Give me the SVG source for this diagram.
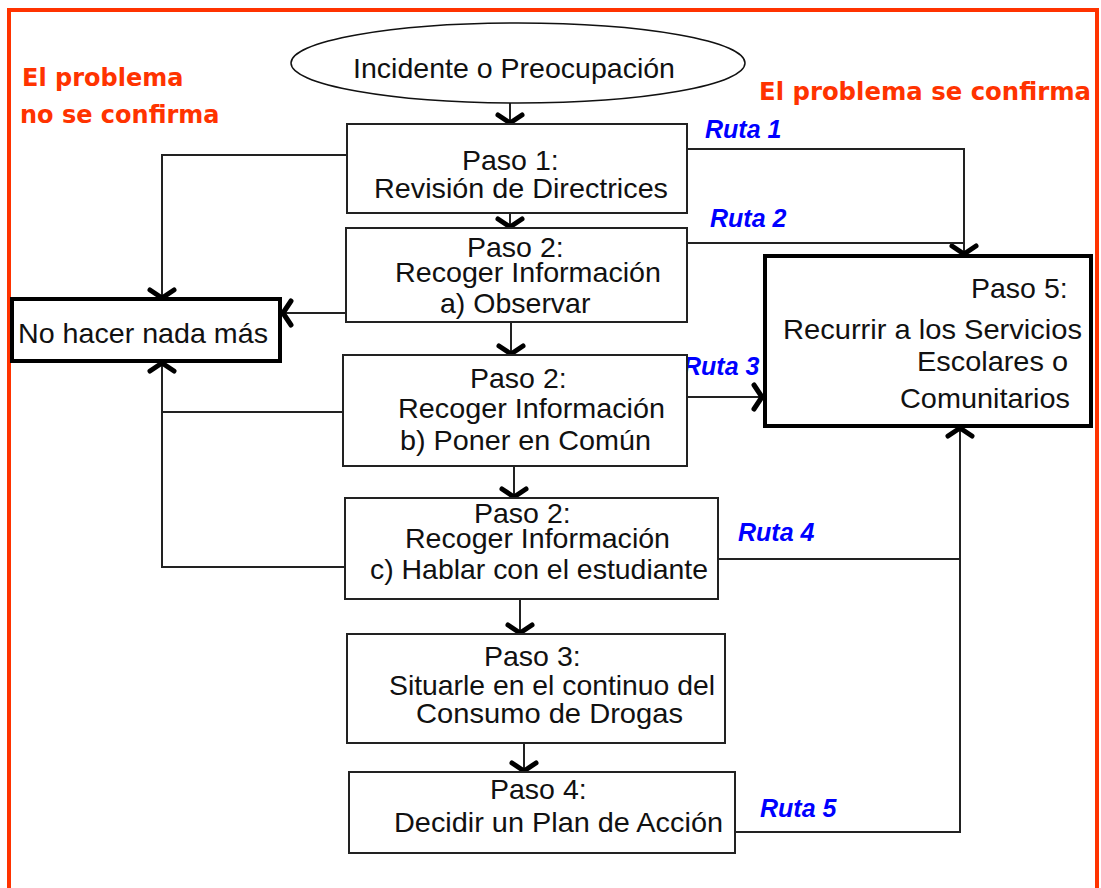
<svg xmlns="http://www.w3.org/2000/svg" width="1101" height="888" viewBox="0 0 1101 888">
<style>
.box{fill:#fff;stroke:#222;stroke-width:2}
.thick{fill:#fff;stroke:#000;stroke-width:4}
.t{font-family:"Liberation Sans",Arial,sans-serif;font-size:28.5px;fill:#111}
.red{font-family:"DejaVu Sans",Verdana,sans-serif;font-weight:bold;font-size:24px;fill:#ff3300}
.ruta{font-family:"Liberation Sans",Arial,sans-serif;font-weight:bold;font-style:italic;font-size:25px;fill:#0000ff}
.c{fill:none;stroke:#222;stroke-width:2}
.a{marker-end:url(#ah)}
</style>
<defs>
<marker id="ah" markerUnits="userSpaceOnUse" viewBox="-16 -16 32 32" markerWidth="32" markerHeight="32" refX="0" refY="0" orient="auto">
<path d="M-9,-12 L-1,0 L-9,12" fill="none" stroke="#000" stroke-width="5" stroke-linejoin="round" stroke-linecap="round"/>
</marker>
</defs>
<rect x="0" y="0" width="1101" height="888" fill="#fff"/>
<path d="M9,895 V10 H1097 V895" fill="none" stroke="#ff3300" stroke-width="4"/>

<g id="labels">
<text class="red" x="22" y="86">El problema</text>
<text class="red" x="20" y="123">no se confirma</text>
<text class="red" x="759" y="100" textLength="332" lengthAdjust="spacingAndGlyphs">El problema se confirma</text>
<text class="ruta" x="705" y="138">Ruta 1</text>
<text class="ruta" x="710" y="227">Ruta 2</text>
<text class="ruta" x="683" y="375">Ruta 3</text>
<text class="ruta" x="738" y="541">Ruta 4</text>
<text class="ruta" x="760" y="817">Ruta 5</text>
</g>

<g id="connectors">
<path class="c a" d="M510,88 V124"/>
<path class="c a" d="M510,213 V228"/>
<path class="c a" d="M511,322 V355"/>
<path class="c a" d="M514,466 V498"/>
<path class="c a" d="M520,599 V634"/>
<path class="c a" d="M524,743 V772"/>
<path class="c a" d="M347,155 H162 V299"/>
<path class="c a" d="M346,313 H282"/>
<path class="c" d="M343,412 H162"/>
<path class="c a" d="M345,567 H162 V362"/>
<path class="c a" d="M687,149 H964 V255"/>
<path class="c" d="M687,243 H964"/>
<path class="c a" d="M685,397 H763"/>
<path class="c" d="M718,559 H960"/>
<path class="c a" d="M735,832 H960 V427"/>
</g>

<g id="incidente">
<ellipse cx="518" cy="63" rx="227" ry="40" fill="#fff" stroke="#111" stroke-width="1.5"/>
<text class="t" x="353" y="78" textLength="322" lengthAdjust="spacingAndGlyphs">Incidente o Preocupación</text>
</g>

<g id="paso1">
<rect class="box" x="347" y="124" width="340" height="89"/>
<text class="t" x="462" y="170">Paso 1:</text>
<text class="t" x="374" y="198" textLength="294" lengthAdjust="spacingAndGlyphs">Revisión de Directrices</text>
</g>

<g id="paso2a">
<rect class="box" x="346" y="228" width="341" height="94"/>
<text class="t" x="467" y="257">Paso 2:</text>
<text class="t" x="395" y="282" textLength="266" lengthAdjust="spacingAndGlyphs">Recoger Información</text>
<text class="t" x="440" y="313">a) Observar</text>
</g>

<g id="nohacer">
<rect class="thick" x="12" y="299" width="268" height="62"/>
<text class="t" x="18" y="343" textLength="250" lengthAdjust="spacingAndGlyphs">No hacer nada más</text>
</g>

<g id="paso2b">
<rect class="box" x="343" y="355" width="344" height="111"/>
<text class="t" x="470" y="388">Paso 2:</text>
<text class="t" x="398" y="418" textLength="267" lengthAdjust="spacingAndGlyphs">Recoger Información</text>
<text class="t" x="400" y="450" textLength="251" lengthAdjust="spacingAndGlyphs">b) Poner en Común</text>
</g>

<g id="paso2c">
<rect class="box" x="345" y="498" width="373" height="101"/>
<text class="t" x="474" y="523">Paso 2:</text>
<text class="t" x="405" y="548" textLength="265" lengthAdjust="spacingAndGlyphs">Recoger Información</text>
<text class="t" x="370" y="579" textLength="338" lengthAdjust="spacingAndGlyphs">c) Hablar con el estudiante</text>
</g>

<g id="paso3">
<rect class="box" x="347" y="634" width="378" height="109"/>
<text class="t" x="484" y="666">Paso 3:</text>
<text class="t" x="389" y="695" textLength="326" lengthAdjust="spacingAndGlyphs">Situarle en el continuo del</text>
<text class="t" x="416" y="723" textLength="267" lengthAdjust="spacingAndGlyphs">Consumo de Drogas</text>
</g>

<g id="paso4">
<rect class="box" x="349" y="772" width="386" height="81"/>
<text class="t" x="490" y="799">Paso 4:</text>
<text class="t" x="394" y="832" textLength="329" lengthAdjust="spacingAndGlyphs">Decidir un Plan de Acción</text>
</g>

<g id="paso5">
<rect class="thick" x="765" y="256" width="326" height="170"/>
<text class="t" x="971" y="298">Paso 5:</text>
<text class="t" x="783" y="339" textLength="299" lengthAdjust="spacingAndGlyphs">Recurrir a los Servicios</text>
<text class="t" x="917" y="371" textLength="151" lengthAdjust="spacingAndGlyphs">Escolares o</text>
<text class="t" x="900" y="408" textLength="170" lengthAdjust="spacingAndGlyphs">Comunitarios</text>
</g>
</svg>
